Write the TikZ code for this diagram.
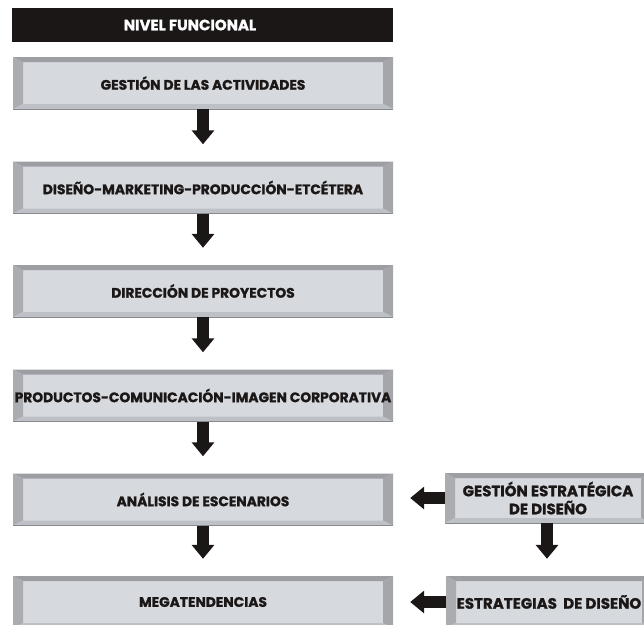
\documentclass[tikz,border=0pt]{standalone}
\usepackage{fontspec}
\setmainfont{Poppins}[BoldFeatures={FakeBold=1.2}]
\usetikzlibrary{arrows.meta,calc,positioning}

\definecolor{panelgray}{HTML}{D6D9DE}
\definecolor{bevtop}{HTML}{9C9EA2}
\definecolor{bevleft}{HTML}{AAACB0}
\definecolor{bevright}{HTML}{A4A6AA}
\definecolor{bevbottom}{HTML}{BDC0C4}
\definecolor{edgegray}{HTML}{86898D}
\definecolor{inkblack}{HTML}{1C1717}

\tikzset{
  panel/.style={fill=panelgray, minimum width=380pt, minimum height=52pt,
    inner sep=0pt, align=center, text=inkblack,
    font=\bfseries\fontsize{13.8}{18}\selectfont,
    path picture={
      \coordinate (nw) at (path picture bounding box.north west);
      \coordinate (ne) at (path picture bounding box.north east);
      \coordinate (sw) at (path picture bounding box.south west);
      \coordinate (se) at (path picture bounding box.south east);
      \fill[bevtop] (nw) -- (ne) -- ([xshift=-10pt,yshift=-5pt]ne) -- ([xshift=10pt,yshift=-5pt]nw) -- cycle;
      \fill[bevleft] (nw) -- ([xshift=10pt,yshift=-5pt]nw) -- ([xshift=10pt,yshift=5pt]sw) -- (sw) -- cycle;
      \fill[bevright] (ne) -- ([xshift=-10pt,yshift=-5pt]ne) -- ([xshift=-10pt,yshift=5pt]se) -- (se) -- cycle;
      \fill[bevbottom] (sw) -- ([xshift=10pt,yshift=5pt]sw) -- ([xshift=-10pt,yshift=5pt]se) -- (se) -- cycle;
      \draw[edgegray, line width=1pt] (sw) -- (se);
    }},
  sidepanel/.style={panel, minimum width=206pt,
    font=\bfseries\fontsize{15}{18}\selectfont},
  titlebar/.style={fill=inkblack, minimum width=381pt, minimum height=34pt,
    inner sep=0pt},
  flow/.style={draw=inkblack, line width=12pt,
    -{Triangle[width=22pt,length=14pt]}, shorten >=17pt}
}

\begin{document}
\begin{tikzpicture}[x=1pt,y=-1pt]

\useasboundingbox (0,0) rectangle (644,624);
\clip (0,0) rectangle (644,624);

% title bar
\node[titlebar] (titulo) at (202.5,25) {};
\node[text=white, font=\bfseries\fontsize{15}{18}\selectfont] (tlabel) at (190,25) {NIVEL FUNCIONAL};

% left column
\node[panel] (b1) at (203,83) {GESTIÓN DE LAS ACTIVIDADES};
\node[panel] (b2) at (203,187.5) {DISEÑO-MARKETING-PRODUCCIÓN-ETCÉTERA};
\node[panel] (b3) at (203,291) {DIRECCIÓN DE PROYECTOS};
\node[panel] (b4) at (203,395.5) {PRODUCTOS-COMUNICACIÓN-IMAGEN CORPORATIVA};
\node[panel] (b5) at (203,499.5) {ANÁLISIS DE ESCENARIOS};
\node[panel] (b6) at (203,602) {MEGATENDENCIAS};

% right column
\node[sidepanel, minimum height=50pt] (r1) at (548,498) {GESTIÓN ESTRATÉGICA\\DE DISEÑO};
\node[sidepanel] (r2) at (549,602) {ESTRATEGIAS~~DE DISEÑO};

% arrows
\draw[flow] (b1.south) -- (b2.north);
\draw[flow] (b2.south) -- (b3.north);
\draw[flow] (b3.south) -- (b4.north);
\draw[flow] (b4.south) -- (b5.north);
\draw[flow] (b5.south) -- (b6.north);
\draw[flow] ([xshift=-1pt]r1.south) -- ([xshift=-1pt]r1.south |- r2.north);
\draw[flow] (r1.west) -- (r1.west -| b5.east);
\draw[flow] (r2.west) -- (r2.west -| b6.east);

\end{tikzpicture}
\end{document}
